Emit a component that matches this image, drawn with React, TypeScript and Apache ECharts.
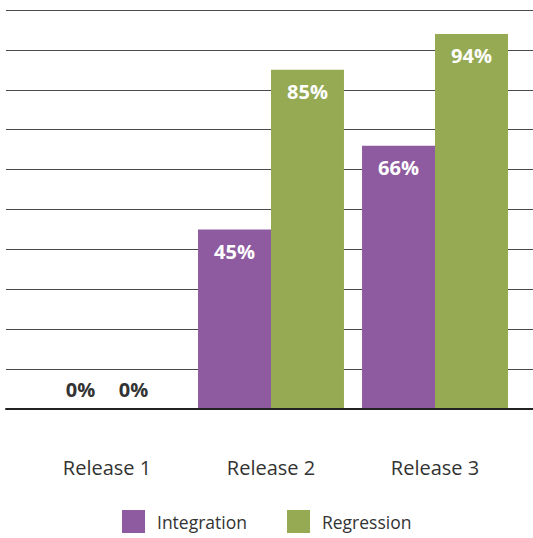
import React, { useEffect, useRef } from "react";
import * as echarts from "echarts";

const categories = ["Release 1", "Release 2", "Release 3"];
const integration = [0, 45, 66];
const regression = [0, 85, 94];
const seriesNames = ["Integration", "Regression"];

const FONT = "'Open Sans', 'Noto Sans', sans-serif";

function toData(values: number[], dx: number) {
  return values.map((v) =>
    v === 0
      ? { value: v, label: { position: "top", distance: 10, offset: [dx, 0], color: "#333" } }
      : { value: v }
  );
}

export default function App() {
  const ref = useRef<HTMLDivElement>(null);
  useEffect(() => {
    const chart = echarts.init(ref.current!, null, { renderer: "svg" });
    const label = {
      show: true,
      position: "insideTop",
      distance: 12,
      color: "#fff",
      fontSize: 20,
      fontWeight: "bold",
      fontFamily: FONT,
      formatter: "{c}%",
    };
    chart.setOption({
      animation: false,
      grid: [
        { left: 25, right: 16, top: 10, bottom: 129 },
        { left: 6, right: 0, top: 10, bottom: 129 },
      ],
      xAxis: [
        {
          type: "category",
          gridIndex: 0,
          data: categories,
          axisLine: { show: false },
          axisTick: { show: false },
          axisLabel: {
            margin: 48,
            fontSize: 20,
            color: "#333",
            fontFamily: FONT,
          },
        },
        {
          type: "value",
          gridIndex: 1,
          axisLine: { show: true, onZero: false, lineStyle: { color: "#222", width: 2 } },
          axisTick: { show: false },
          axisLabel: { show: false },
          splitLine: { show: false },
          z: 5,
        },
      ],
      yAxis: [
        {
          type: "value",
          gridIndex: 0,
          min: 0,
          max: 100,
          interval: 10,
          show: false,
          splitLine: { show: false },
        },
        {
          type: "value",
          gridIndex: 1,
          min: 0,
          max: 100,
          interval: 10,
          axisLine: { show: false },
          axisTick: { show: false },
          axisLabel: { show: false },
          splitLine: { show: true, lineStyle: { color: "#4a4a4a", width: 1 } },
        },
      ],
      legend: {
        bottom: 0,
        left: 117,
        itemWidth: 23,
        itemHeight: 23,
        itemGap: 40,
        icon: "rect",
        textStyle: { fontSize: 17.5, color: "#333", fontFamily: FONT, padding: [0, 0, 0, 7] },
        data: seriesNames,
      },
      series: [
        {
          name: seriesNames[0],
          type: "bar",
          xAxisIndex: 0,
          yAxisIndex: 0,
          data: toData(integration, 10),
          barGap: "0%",
          barCategoryGap: "11%",
          itemStyle: { color: "#8e5ba0" },
          label,
          z: 3,
        },
        {
          name: seriesNames[1],
          type: "bar",
          xAxisIndex: 0,
          yAxisIndex: 0,
          data: toData(regression, -10),
          barGap: "0%",
          barCategoryGap: "11%",
          itemStyle: { color: "#95aa52" },
          label,
          z: 3,
        },
      ],
    });
    return () => chart.dispose();
  }, []);
  return <div ref={ref} style={{ width: 533, height: 538, position: "absolute", left: 0, top: 0 }} />;
}
